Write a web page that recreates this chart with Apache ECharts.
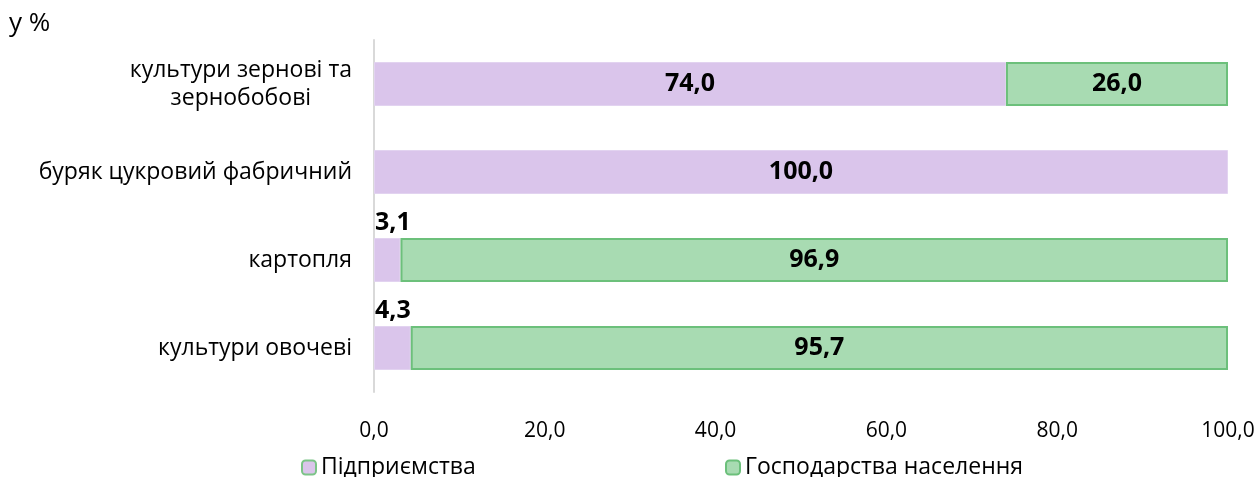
<!DOCTYPE html>
<html>
<head>
<meta charset="utf-8">
<script src="https://cdn.jsdelivr.net/npm/echarts@6/dist/echarts.min.js"></script>
<style>
  html, body { margin: 0; padding: 0; background: #fff; }
  #chart { width: 1258px; height: 477px; }
</style>
</head>
<body>
<div id="chart"></div>
<script>
// категорії та значення (у %)
let categories = ['культури зернові та\nзернобобові', 'буряк цукровий фабричний', 'картопля', 'культури овочеві'];
let enterprises = [74.0, 100.0, 3.1, 4.3];
let households = [26.0, null, 96.9, 95.7];
let xTicks = [0, 20, 40, 60, 80, 100];

let font = 'Open Sans';
let fmt = function (v) { return Number(v).toFixed(1).replace('.', ','); };

let myChart = echarts.init(document.getElementById('chart'));
let options = {
	animation: false,
	textStyle: { fontFamily: font },
	graphic: [{
		type: 'text', left: 9, top: 11,
		style: { text: 'у %', fontFamily: font, fontSize: 26, fill: '#000' }
	}],
	legend: [{
		data: [{ name: 'Підприємства', itemStyle: { borderColor: '#7CC488', borderWidth: 2 } }],
		left: 296, top: 451,
		itemWidth: 14, itemHeight: 14, itemGap: 4,
		textStyle: { fontFamily: font, fontSize: 23, color: '#000' }
	}, {
		data: ['Господарства населення'], left: 720, top: 451,
		itemWidth: 14, itemHeight: 14, itemGap: 4,
		textStyle: { fontFamily: font, fontSize: 23, color: '#000' }
	}],
	grid: { left: 374, right: 30, top: 40, bottom: 85, containLabel: false },
	xAxis: {
		type: 'value', min: 0, max: 100, interval: 20,
		axisLine: { show: false }, axisTick: { show: false },
		splitLine: { show: false },
		axisLabel: {
			margin: 29, fontSize: 21, color: '#000', fontFamily: font,
			formatter: function (v) { return xTicks.indexOf(v) >= 0 ? fmt(v) : ''; }
		}
	},
	yAxis: {
		type: 'category', data: categories, inverse: true,
		axisLine: { show: true, lineStyle: { color: '#D9D9D9', width: 2 } },
		axisTick: { show: false },
		axisLabel: {
			margin: 22, color: '#000',
			formatter: function (v) { return '{c|' + v.split('\n').join('}\n{c|') + '}'; },
			rich: { c: { fontFamily: font, fontSize: 23, lineHeight: 28, align: 'center', color: '#000' } }
		}
	},
	series: [{
		name: 'Підприємства', type: 'bar', stack: 'all', barWidth: 44,
		itemStyle: { color: '#DAC5EB', borderColor: '#E2D3F0', borderWidth: 1 },
		label: {
			show: true, position: 'inside', fontFamily: font, fontSize: 25, fontWeight: 'bold', color: '#000',
			formatter: function (p) { return fmt(p.value); }
		}
	}, {
		name: 'Господарства населення', type: 'bar', stack: 'all', barWidth: 44,
		data: households,
		itemStyle: { color: '#A8DBB2', borderColor: '#6CC07B', borderWidth: 2 },
		label: {
			show: true, position: 'inside', fontFamily: font, fontSize: 25, fontWeight: 'bold', color: '#000',
			formatter: function (p) { return p.value == null ? '' : fmt(p.value); }
		}
	}]
};
// малі значення — підпис над смугою, від її початку
options.series[0].data = enterprises.map(function (v) {
	if (v < 10) {
		return { value: v, label: { position: [1, -28] } };
	}
	return v;
});
myChart.setOption(options, true);
</script>
</body>
</html>
